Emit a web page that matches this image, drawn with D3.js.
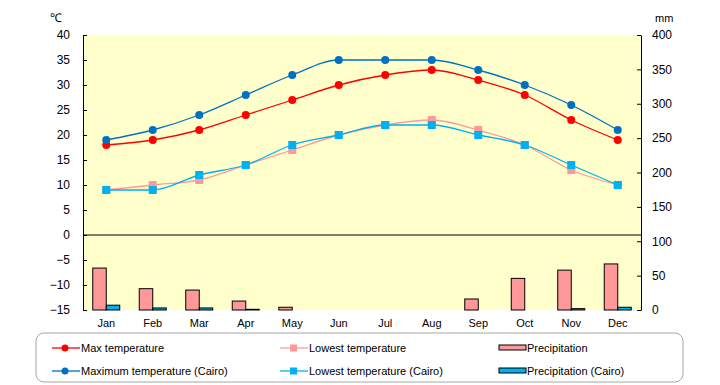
<!DOCTYPE html>
<html>
<head>
<meta charset="utf-8">
<script src="https://cdn.jsdelivr.net/npm/d3@7"></script>
<style>
  body { margin: 0; background: #fff; }
  svg { font-family: "Liberation Sans", Arial, sans-serif; }
</style>
</head>
<body>
<div id="chart"></div>
<script>
// data
const months = ["Jan", "Feb", "Mar", "Apr", "May", "Jun", "Jul", "Aug", "Sep", "Oct", "Nov", "Dec"];
const maxTemp = [18, 19, 21, 24, 27, 30, 32, 33, 31, 28, 23, 19];
const lowTemp = [9, 10, 11, 14, 17, 20, 22, 23, 21, 18, 13, 10];
const precip = [61, 31, 29, 13, 4, 0, 0, 0, 16, 46, 58, 67];
const maxCairo = [19, 21, 24, 28, 32, 35, 35, 35, 33, 30, 26, 21];
const lowCairo = [9, 9, 12, 14, 18, 20, 22, 22, 20, 18, 14, 10];
const precipCairo = [7, 3, 3, 1, 0, 0, 0, 0, 0, 0, 2, 4];
const tempTicks = [-15, -10, -5, 0, 5, 10, 15, 20, 25, 30, 35, 40];
const mmTicks = [0, 50, 100, 150, 200, 250, 300, 350, 400];

const width = 720, height = 385;
const plotL = 83, plotR = 641, plotT = 35, plotB = 310;

const svg = d3.select("#chart").append("svg")
  .attr("width", width)
  .attr("height", height);

// scales
const x = d3.scaleBand().domain(months).range([plotL, plotR]);
const yT = d3.scaleLinear().domain([-15, 40]).range([plotB, plotT]);
const yP = d3.scaleLinear().domain([0, 400]).range([plotB, plotT]);

// plot background
svg.append("rect")
  .attr("x", plotL).attr("y", plotT)
  .attr("width", plotR - plotL).attr("height", plotB - plotT)
  .attr("fill", "#FFFFCC");

// precipitation bars
const barW = 13.5;
svg.append("g").selectAll("rect")
  .data(months)
  .join("rect")
  .attr("x", d => x(d) + x.bandwidth() / 2 - barW)
  .attr("y", (d, i) => yP(precip[i]))
  .attr("width", barW)
  .attr("height", (d, i) => yP(0) - yP(precip[i]))
  .attr("fill", "#FF9999")
  .attr("stroke", "#000")
  .attr("stroke-width", 1)
  .style("display", (d, i) => precip[i] > 0 ? null : "none");

svg.append("g").selectAll("rect")
  .data(months)
  .join("rect")
  .attr("x", d => x(d) + x.bandwidth() / 2)
  .attr("y", (d, i) => yP(precipCairo[i]))
  .attr("width", barW)
  .attr("height", (d, i) => yP(0) - yP(precipCairo[i]))
  .attr("fill", "#00B0F0")
  .attr("stroke", "#000")
  .attr("stroke-width", 1)
  .style("display", (d, i) => precipCairo[i] > 0 ? null : "none");

// zero line
svg.append("line")
  .attr("x1", plotL).attr("x2", plotR)
  .attr("y1", yT(0)).attr("y2", yT(0))
  .attr("stroke", "#000");

// lines
const cx = i => x(months[i]) + x.bandwidth() / 2;
const line = d3.line()
  .x((d, i) => cx(i))
  .y(d => yT(d))
  .curve(d3.curveMonotoneX);

const series = [
  { values: maxTemp, color: "#FF0000", shape: "circle" },
  { values: lowTemp, color: "#FF9999", shape: "square" },
  { values: maxCairo, color: "#0070C0", shape: "circle" },
  { values: lowCairo, color: "#00B0F0", shape: "square" }
];

series.forEach(s => {
  const g = svg.append("g");
  g.append("path")
    .attr("d", line(s.values))
    .attr("fill", "none")
    .attr("stroke", s.color)
    .attr("stroke-width", 1.3);
  if (s.shape === "circle") {
    g.selectAll("circle")
      .data(s.values)
      .join("circle")
      .attr("cx", (d, i) => cx(i))
      .attr("cy", d => yT(d))
      .attr("r", 4)
      .attr("fill", s.color);
  } else {
    g.selectAll("rect")
      .data(s.values)
      .join("rect")
      .attr("x", (d, i) => cx(i) - 4)
      .attr("y", d => yT(d) - 4)
      .attr("width", 8)
      .attr("height", 8)
      .attr("fill", s.color);
  }
});

// axes
const axisL = svg.append("g")
  .attr("transform", `translate(${plotL},0)`)
  .call(d3.axisLeft(yT).tickValues(tempTicks).tickSize(-4).tickSizeOuter(0).tickPadding(13));
const axisR = svg.append("g")
  .attr("transform", `translate(${plotR},0)`)
  .call(d3.axisRight(yP).tickValues(mmTicks).tickSize(-4).tickSizeOuter(0).tickPadding(11));
[axisL, axisR].forEach(a => {
  a.selectAll("text").attr("font-size", 12).attr("fill", "#000")
    .attr("font-family", "'Liberation Sans', Arial, sans-serif");
  a.selectAll("line").attr("stroke", "#000");
  a.select(".domain").attr("stroke", "#000");
});

// month labels
svg.append("g").selectAll("text")
  .data(months)
  .join("text")
  .attr("x", d => x(d) + x.bandwidth() / 2)
  .attr("y", 327)
  .attr("text-anchor", "middle")
  .attr("font-size", 11)
  .text(d => d);

// units
svg.append("text").attr("x", 50).attr("y", 22).attr("font-size", 12).text("℃");
svg.append("text").attr("x", 655).attr("y", 22).attr("font-size", 11).text("mm");

// legend
svg.append("rect")
  .attr("x", 36).attr("y", 333)
  .attr("width", 647).attr("height", 49)
  .attr("rx", 8)
  .attr("fill", "#fff")
  .attr("stroke", "#A6A6A6");

const legendItems = [
  { label: "Max temperature", color: "#FF0000", shape: "circle", lx: 52, row: 0 },
  { label: "Maximum temperature (Cairo)", color: "#0070C0", shape: "circle", lx: 52, row: 1 },
  { label: "Lowest temperature", color: "#FF9999", shape: "square", lx: 280, row: 0 },
  { label: "Lowest temperature (Cairo)", color: "#00B0F0", shape: "square", lx: 280, row: 1 },
  { label: "Precipitation", color: "#FF9999", shape: "bar", lx: 499, row: 0 },
  { label: "Precipitation (Cairo)", color: "#00B0F0", shape: "bar", lx: 499, row: 1 }
];

legendItems.forEach(d => {
  const yy = 348 + d.row * 23;
  const g = svg.append("g");
  if (d.shape === "bar") {
    g.append("rect")
      .attr("x", d.lx).attr("y", yy - 3)
      .attr("width", 27).attr("height", 5)
      .attr("fill", d.color).attr("stroke", "#000");
    g.append("text").attr("x", d.lx + 28).attr("y", yy + 4)
      .attr("font-size", 11).text(d.label);
  } else {
    g.append("line")
      .attr("x1", d.lx).attr("x2", d.lx + 28)
      .attr("y1", yy).attr("y2", yy)
      .attr("stroke", d.color).attr("stroke-width", 1.3);
    if (d.shape === "circle") {
      g.append("circle").attr("cx", d.lx + 13).attr("cy", yy).attr("r", 3.5).attr("fill", d.color);
    } else {
      g.append("rect").attr("x", d.lx + 10).attr("y", yy - 3.5)
        .attr("width", 7).attr("height", 7).attr("fill", d.color);
    }
    g.append("text").attr("x", d.lx + 29).attr("y", yy + 4)
      .attr("font-size", 11).text(d.label);
  }
});
</script>
</body>
</html>
